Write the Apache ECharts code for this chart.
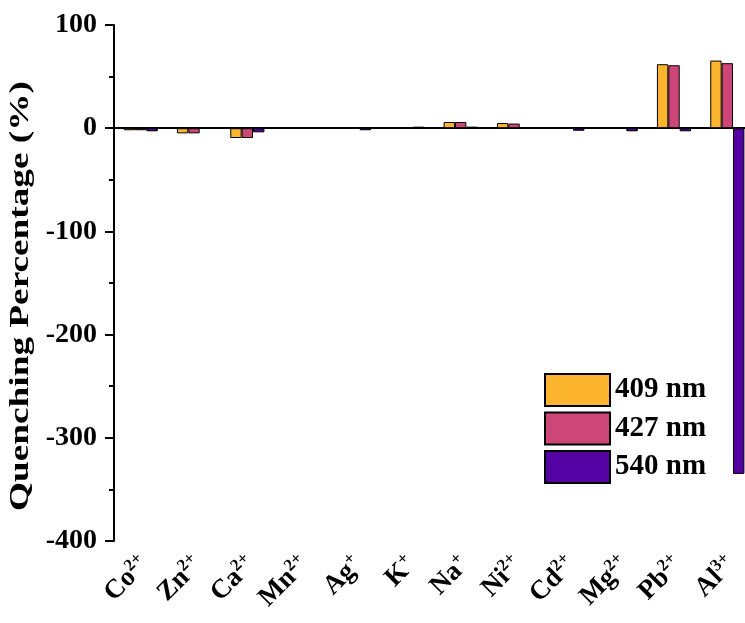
<!DOCTYPE html>
<html>
<head>
<meta charset="utf-8">
<script src="https://cdn.jsdelivr.net/npm/echarts@6/dist/echarts.min.js"></script>
<style>html,body{margin:0;padding:0;background:#fff}#c{width:745px;height:623px}</style>
</head>
<body>
<div id="c"></div>
<script>
const ions = ['Co','Zn','Ca','Mn','Ag','K','Na','Ni','Cd','Mg','Pb','Al'];
const charges = ['2+','2+','2+','2+','+','+','+','2+','2+','2+','2+','3+'];
const seriesNames = ['409 nm','427 nm','540 nm'];
const s409 = [-2,-5,-9.5,0.5,0.3,1,6,5,1,0.3,62,65.5];
const s427 = [-2,-5,-9.5,0.5,0.3,1,6,4.5,1,0.3,61,63];
const s540 = [-3,-0.5,-4,0.3,-2,1.5,1.5,1,-2.5,-3,-3,-335];
const yTicks = {min:-400, max:100, interval:100};
const yTitle = 'Quenching Percentage (%)';
const colors = ['#FDB42F','#CC4778','#5402A3'];

const FONT = '"Liberation Serif","Times New Roman",serif';
const chart = echarts.init(document.getElementById('c'));
const cats = ions.map((n,i)=>n+'|'+charges[i]);
const mk = (name,data,c)=>({
  name, type:'bar', data, barGap:'0%', barCategoryGap:'36%',
  itemStyle:{color:c, borderColor:'#000', borderWidth:1}
});
chart.setOption({
  animation:false,
  grid:{left:114, right:-9, top:25, bottom:82, containLabel:false, outerBoundsMode:'none'},
  legend:{
    orient:'vertical', left:539, top:368, itemWidth:65, itemHeight:32, itemGap:4.5,
    icon:'rect',
    textStyle:{fontFamily:FONT, fontWeight:'bold', fontSize:29, color:'#000'},
    data:seriesNames
  },
  graphic:[{
    type:'text', x:21, y:296, rotation:Math.PI/2, scaleX:1.38,
    style:{text:yTitle, font:'bold 27px "Liberation Serif", serif', fill:'#000', textAlign:'center', textVerticalAlign:'middle'}
  }],
  xAxis:{
    type:'category', data:cats,
    axisLine:{lineStyle:{color:'#000', width:2}},
    axisTick:{alignWithLabel:true, length:9, lineStyle:{color:'#000', width:2}},
    axisLabel:{
      interval:0, rotate:45, margin:24, color:'#000', padding:[0,-6,0,0],
      formatter:v=>{const p=v.split('|');return '{a|'+p[0]+'}{s|'+p[1]+'}';},
      rich:{
        a:{fontFamily:FONT, fontWeight:'bold', fontSize:27, color:'#000'},
        s:{fontFamily:FONT, fontWeight:'bold', fontSize:17, color:'#000', verticalAlign:'top', padding:[0,0,14,0]}
      }
    },
    splitLine:{show:false}
  },
  yAxis:{
    type:'value', min:yTicks.min, max:yTicks.max, interval:yTicks.interval,
    axisLine:{show:true, lineStyle:{color:'#000', width:2}},
    axisTick:{show:true, length:9, lineStyle:{color:'#000', width:2}},
    minorTick:{show:true, splitNumber:2, length:5, lineStyle:{color:'#000', width:2}},
    axisLabel:{fontFamily:FONT, fontWeight:'bold', fontSize:28, color:'#000', margin:17},
    splitLine:{show:false}
  },
  series:[mk(seriesNames[0],s409,colors[0]), mk(seriesNames[1],s427,colors[1]), mk(seriesNames[2],s540,colors[2])]
});
</script>
</body>
</html>
